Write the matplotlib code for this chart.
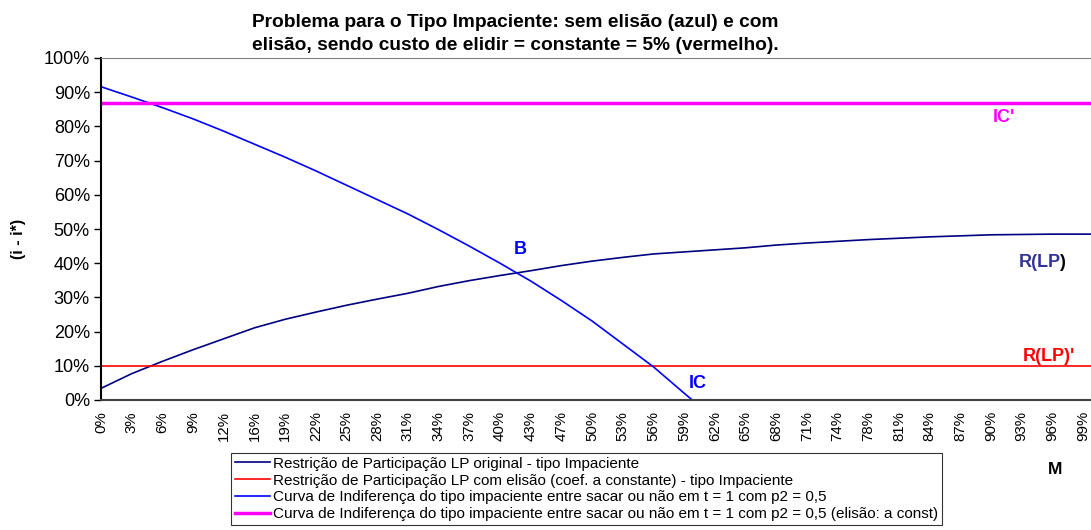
import matplotlib
matplotlib.use("Agg")
from matplotlib import pyplot as plt
from matplotlib.ticker import FuncFormatter

plt.rcParams['font.family'] = ['Liberation Sans', 'DejaVu Sans']

# eixo M (categorias de 3,1 em 3,1 %), ultimo ponto fora dos rotulos
m = [0.0, 3.1, 6.2, 9.3, 12.4, 15.5, 18.6, 21.7, 24.8, 27.9, 31.0, 34.1, 37.2,
     40.3, 43.4, 46.5, 49.6, 52.7, 55.8, 58.9, 62.0, 65.1, 68.2, 71.3, 74.4,
     77.5, 80.6, 83.7, 86.8, 89.9, 93.0, 96.1, 99.2, 102.3]
m_labels = ["0%", "3%", "6%", "9%", "12%", "16%", "19%", "22%", "25%", "28%",
            "31%", "34%", "37%", "40%", "43%", "47%", "50%", "53%", "56%", "59%",
            "62%", "65%", "68%", "71%", "74%", "78%", "81%", "84%", "87%", "90%",
            "93%", "96%", "99%"]

# Restricao de Participacao LP original
r_lp = [3.4, 7.7, 11.3, 14.7, 17.9, 21.1, 23.6, 25.7, 27.7, 29.5, 31.2, 33.2,
        34.9, 36.4, 37.8, 39.3, 40.6, 41.7, 42.7, 43.3, 43.9, 44.5, 45.3, 45.9,
        46.4, 46.9, 47.3, 47.7, 48.0, 48.3, 48.4, 48.5, 48.5, 48.5]
# Restricao com elisao (constante)
r_lp2 = [10.0] * len(m)
# Curva de indiferenca IC
ic = [91.6, 88.6, 85.5, 82.2, 78.6, 74.8, 71.0, 67.0, 62.8, 58.6, 54.4, 49.8,
      45.0, 40.0, 34.8, 29.1, 23.1, 16.4, 9.7, 2.0, -5.5]
# Curva de indiferenca com elisao
ic2 = [86.7] * len(m)

fig = plt.figure(figsize=(10.91, 5.30), dpi=100)
ax = fig.add_axes([101/1091, 1-400/530, 1-101/1091, 342/530])

ax.plot(m, r_lp, color="#000080", lw=1.2,
        label="Restrição de Participação LP original - tipo Impaciente")
ax.plot(m, r_lp2, color="#FF0000", lw=1.2,
        label="Restrição de Participação LP com elisão (coef. a constante) - tipo Impaciente")
ax.plot(m[:len(ic)], ic, color="#0000FF", lw=1.2,
        label="Curva de Indiferença do tipo impaciente entre sacar ou não em t = 1 com p2 = 0,5")
ax.plot(m, ic2, color="#FF00FF", lw=2.5,
        label="Curva de Indiferença do tipo impaciente entre sacar ou não em t = 1 com p2 = 0,5 (elisão: a const)")

ax.set_xlim(0, 100.0)
ax.set_ylim(0, 100)
ax.set_yticks(range(0, 101, 10))
ax.yaxis.set_major_formatter(FuncFormatter(lambda v, p: "%d%%" % v))
ax.set_xticks(m[:len(m_labels)])
ax.set_xticklabels(m_labels, rotation=90, fontsize=10.8)
ax.tick_params(axis='x', length=0, pad=8)
ax.tick_params(axis='y', length=5, width=1, direction='out', labelsize=13, pad=3)

ax.spines['right'].set_visible(False)
ax.spines['top'].set_color('#808080')
ax.spines['left'].set_color('black')
ax.spines['left'].set_linewidth(1.5)
ax.spines['bottom'].set_color('#404040')
ax.spines['bottom'].set_linewidth(1.5)

bold = dict(fontweight='bold', fontsize=13)
ax.text(91.2, 82.5, "IC'", color="#FF00FF", ha='center', va='center', **bold)
ax.text(42.3, 43.9, "B", color="#0000FF", ha='center', va='center', **bold)
ax.text(97.0, 40.1, "R(LP", color="#333399", ha='right', va='center', **bold)
ax.annotate(")", xy=(97.0, 40.1), xytext=(-1.5, 0), textcoords='offset points',
            color="black", ha='left', va='center', **bold)
ax.text(95.7, 12.6, "R(LP)'", color="#FF0000", ha='center', va='center', **bold)
ax.text(60.3, 4.7, "IC", color="#0000FF", ha='center', va='center', **bold)

ax.set_ylabel("(i - i*)", fontweight='bold', fontsize=11.5)
ax.yaxis.set_label_coords(-75/990, 0.47)

fig.text(252/1091, 1-14/530,
         "Problema para o Tipo Impaciente: sem elisão (azul) e com\n"
         "elisão, sendo custo de elidir = constante = 5% (vermelho).",
         ha='left', va='top', fontweight='bold', fontsize=13.8, linespacing=1.45)

fig.text(1055/1091, 1-470/530, "M", ha='center', va='center',
         fontweight='bold', fontsize=12.5)

leg = fig.legend(loc='upper left', bbox_to_anchor=(231/1091, 1-453/530),
                 fontsize=11, frameon=True, fancybox=False, edgecolor='black',
                 handlelength=2.3, handletextpad=0.2, labelspacing=0.18,
                 borderpad=0.25, borderaxespad=0)
leg.get_frame().set_linewidth(0.8)

fig.savefig("out.png", dpi=100)
